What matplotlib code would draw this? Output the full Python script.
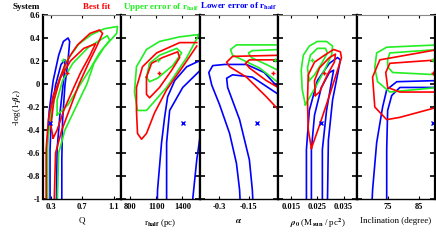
import matplotlib
matplotlib.use('Agg')
import matplotlib.pyplot as plt

plt.rcParams['font.family'] = ['Liberation Serif', 'DejaVu Serif']
plt.rcParams['font.weight'] = 'bold'
plt.rcParams['mathtext.fontset'] = 'stix'
plt.rcParams['axes.unicode_minus'] = False

RED = '#ff0000'
GREEN = '#22ee22'
BLUE = '#0000ff'

y_ticks = [-1, -0.8, -0.6, -0.4, -0.2, 0, 0.2, 0.4, 0.6]
y_tick_labels = ['-1', '-0.8', '-0.6', '-0.4', '-0.2', '0', '0.2', '0.4', '0.6']

# --- Q panel
q_ticks = [0.3, 0.7, 1.1]
q_tick_labels = ['0.3', '0.7', '1.1']
q_red_outer = [(0.24, -1.1), (0.24, -0.57), (0.27, -0.30), (0.33, -0.10), (0.39, 0.0),
               (0.47, 0.15), (0.55, 0.25), (0.64, 0.34), (0.80, 0.44), (0.92, 0.47),
               (0.96, 0.44), (0.88, 0.32), (0.78, 0.18), (0.66, 0.0), (0.55, -0.20),
               (0.44, -0.40), (0.36, -0.60), (0.34, -1.1)]
q_red_inner = [(0.33, -0.47), (0.30, -0.36), (0.34, -0.14), (0.42, 0.05), (0.55, 0.20),
               (0.72, 0.31), (0.87, 0.35), (0.80, 0.25), (0.68, 0.10), (0.58, -0.05),
               (0.47, -0.22), (0.38, -0.40), (0.33, -0.47)]
q_green_outer = [(0.26, -1.1), (0.26, -0.49), (0.31, -0.23), (0.40, 0.03), (0.52, 0.22),
                 (0.66, 0.35), (0.82, 0.43), (0.98, 0.48), (1.15, 0.50), (1.14, 0.44),
                 (0.98, 0.32), (0.85, 0.18), (0.76, 0.0), (0.62, -0.20), (0.48, -0.40),
                 (0.40, -0.60), (0.38, -1.1)]
q_green_inner = [(0.38, -0.27), (0.38, -0.14), (0.45, 0.03), (0.58, 0.18), (0.78, 0.32),
                 (1.02, 0.42), (1.05, 0.38), (0.92, 0.27), (0.80, 0.13), (0.66, -0.02),
                 (0.52, -0.18), (0.38, -0.27)]
q_blue_outer = [(0.25, -1.1), (0.25, -0.57), (0.28, -0.23), (0.33, 0.03), (0.40, 0.25),
                (0.46, 0.37), (0.52, 0.40), (0.54, 0.37), (0.52, 0.21), (0.48, -0.01),
                (0.45, -0.31), (0.44, -0.66), (0.44, -1.1)]
q_blue_inner = [(0.29, -1.1), (0.29, -0.57), (0.31, -0.23), (0.36, -0.01), (0.43, 0.17),
                (0.48, 0.21), (0.47, 0.08), (0.42, -0.23), (0.38, -0.57), (0.37, -1.1)]
q_points = [(0.50, 0.10), (0.45, 0.21), (0.29, -0.34)]

# --- r_half panel
r_ticks = [800, 1100, 1400]
r_tick_labels = ['800', '1100', '1400']
r_red_outer = [(1565, 0.36), (1369, 0.36), (1104, 0.27), (942, 0.15), (873, -0.03),
               (873, -0.23), (885, -0.43), (931, -0.48), (988, -0.43), (1081, -0.25),
               (1219, -0.05), (1404, 0.15), (1565, 0.33)]
r_red_inner = [(988, 0.06), (1046, 0.18), (1173, 0.23), (1346, 0.28), (1369, 0.23),
               (1277, 0.12), (1138, -0.03), (1023, -0.12), (988, -0.09), (988, 0.06)]
r_green_outer = [(1589, 0.43), (1369, 0.41), (1138, 0.37), (988, 0.30), (873, 0.15),
                 (850, -0.07), (885, -0.23), (988, -0.23), (1219, -0.03), (1450, 0.23),
                 (1577, 0.41), (1589, 0.43)]
r_green_inner = [(988, 0.06), (1023, 0.18), (1138, 0.25), (1335, 0.31), (1392, 0.27),
                 (1288, 0.16), (1115, 0.05), (1023, 0.02), (988, 0.06)]
r_blue_a = [(1620, 0.21), (1450, 0.15), (1312, 0.03), (1231, -0.11), (1196, -0.29),
            (1161, -0.51), (1115, -0.92), (1110, -1.1)]
r_blue_b = [(1620, 0.13), (1404, -0.03), (1254, -0.23), (1219, -0.51), (1219, -1.1)]
r_blue_c = [(1610, -0.42), (1565, -0.66), (1519, -1.0), (1515, -1.1)]
r_points = [(1127, 0.10), (1115, 0.21), (1404, -0.34)]

# --- alpha panel
a_ticks = [-0.3, -0.15]
a_tick_labels = ['-0.3', '-0.15']
a_red_outer = [(0.01, 0.25), (-0.233, 0.24), (-0.263, 0.19), (-0.248, 0.15), (-0.162, 0.06),
               (-0.061, -0.11), (0.01, -0.24)]
a_red_inner = [(0.01, 0.21), (-0.147, 0.21), (-0.167, 0.18), (-0.147, 0.14), (-0.061, 0.03),
               (0.01, -0.04)]
a_green_outer = [(0.01, 0.34), (-0.213, 0.34), (-0.243, 0.30), (-0.233, 0.25), (-0.182, 0.21),
                 (-0.096, 0.14), (0.01, 0.0)]
a_green_inner = [(0.01, 0.30), (-0.132, 0.29), (-0.152, 0.27), (-0.137, 0.23), (-0.061, 0.17),
                 (0.01, 0.11)]
a_blue_outer = [(0.01, -0.05), (-0.071, 0.10), (-0.162, 0.17), (-0.273, 0.17), (-0.334, 0.16),
                (-0.354, 0.10), (-0.339, -0.01), (-0.299, -0.18), (-0.248, -0.43),
                (-0.213, -0.69), (-0.197, -0.92), (-0.192, -1.1)]
a_blue_inner = [(0.01, -0.10), (-0.132, 0.06), (-0.233, 0.08), (-0.263, 0.05), (-0.258, -0.03),
                (-0.197, -0.31), (-0.147, -0.66), (-0.132, -0.92), (-0.127, -1.1)]
a_points = [(-0.025, 0.10), (-0.015, 0.21), (-0.106, -0.34)]

# --- rho_0 panel
p_ticks = [0.015, 0.025, 0.035]
p_tick_labels = ['0.015', '0.025', '0.035']
p_red_outer = [(0.0227, -0.56), (0.0215, -0.40), (0.0212, -0.14), (0.0215, 0.08),
               (0.0239, 0.19), (0.0277, 0.25), (0.0312, 0.30), (0.0338, 0.28),
               (0.0342, 0.23), (0.0327, 0.12), (0.0296, -0.10), (0.0258, -0.36),
               (0.0227, -0.56)]
p_red_inner = [(0.0242, -0.10), (0.0239, 0.03), (0.0258, 0.14), (0.0296, 0.23),
               (0.0319, 0.26), (0.0315, 0.19), (0.0288, 0.08), (0.0258, -0.07),
               (0.0242, -0.10)]
p_green_outer = [(0.0204, -0.18), (0.0192, -0.05), (0.0188, 0.12), (0.0196, 0.25),
                 (0.0219, 0.33), (0.0250, 0.37), (0.0285, 0.37), (0.0308, 0.33),
                 (0.0304, 0.25), (0.0277, 0.12), (0.0242, -0.03), (0.0204, -0.18)]
p_green_inner = [(0.0219, 0.03), (0.0212, 0.14), (0.0223, 0.25), (0.0250, 0.31),
                 (0.0281, 0.31), (0.0288, 0.27), (0.0269, 0.19), (0.0239, 0.08),
                 (0.0219, 0.03)]
p_blue_outer = [(0.0208, -1.1), (0.0208, -0.57), (0.0219, -0.23), (0.0250, 0.03),
                (0.0296, 0.18), (0.0327, 0.23), (0.0338, 0.21), (0.0327, 0.08),
                (0.0308, -0.14), (0.0292, -0.49), (0.0288, -1.1)]
p_blue_inner = [(0.0227, -1.1), (0.0227, -0.57), (0.0239, -0.27), (0.0265, -0.03),
                (0.0296, 0.10), (0.0312, 0.12), (0.0304, 0.02), (0.0285, -0.23),
                (0.0269, -0.57), (0.0269, -1.1)]
p_points = [(0.0277, 0.10), (0.0231, 0.21), (0.0265, -0.34)]

# --- inclination panel
i_ticks = [75, 85]
i_tick_labels = ['75', '85']
i_red_outer = [(91, 0.30), (72.4, 0.21), (70.1, 0.06), (70.8, -0.20), (74.6, -0.31),
               (78.8, -0.29), (91, -0.20)]
i_red_inner = [(91, 0.21), (75.6, 0.18), (74.3, 0.10), (74.9, -0.03), (78.8, -0.07),
               (91, -0.07)]
i_green_outer = [(91, 0.34), (74.6, 0.32), (71.4, 0.27), (70.8, 0.14), (71.7, 0.02),
                 (75.6, -0.07), (91, -0.03)]
i_green_inner = [(91, 0.30), (75.6, 0.27), (74.9, 0.21), (74.9, 0.15), (76.5, 0.10),
                 (91, 0.08)]
i_blue_outer = [(91, 0.03), (77.8, 0.02), (74.6, -0.05), (73.3, -0.20), (71.4, -0.51),
                (70.1, -0.92), (69.8, -1.1)]
i_blue_inner = [(91, -0.03), (78.8, -0.03), (76.2, -0.10), (74.9, -0.23), (74.6, -0.57),
                (74.6, -1.1)]
i_points = [(89.4, 0.10), (89.4, 0.21), (89.4, -0.34)]

panels = [
    dict(xlim=(0.2, 1.2), ticks=q_ticks, labels=q_tick_labels, xlabel='Q',
         red=[q_red_outer, q_red_inner], green=[q_green_outer, q_green_inner],
         blue=[q_blue_outer, q_blue_inner], points=q_points),
    dict(xlim=(700, 1600), ticks=r_ticks, labels=r_tick_labels,
         xlabel=r'r$_{\rm half}$ (pc)',
         red=[r_red_outer, r_red_inner], green=[r_green_outer, r_green_inner],
         blue=[r_blue_a, r_blue_b, r_blue_c], points=r_points),
    dict(xlim=(-0.4, 0.0), ticks=a_ticks, labels=a_tick_labels, xlabel=r'$\alpha$',
         red=[a_red_outer, a_red_inner], green=[a_green_outer, a_green_inner],
         blue=[a_blue_outer, a_blue_inner], points=a_points),
    dict(xlim=(0.01, 0.04), ticks=p_ticks, labels=p_tick_labels,
         xlabel=r'$\rho_0$ (M$_{\rm sun}$ / pc$^2$)',
         red=[p_red_outer, p_red_inner], green=[p_green_outer, p_green_inner],
         blue=[p_blue_outer, p_blue_inner], points=p_points),
    dict(xlim=(65, 90), ticks=i_ticks, labels=i_tick_labels,
         xlabel='Inclination (degree)',
         red=[i_red_outer, i_red_inner], green=[i_green_outer, i_green_inner],
         blue=[i_blue_outer, i_blue_inner], points=i_points),
]

fig = plt.figure(figsize=(4.36, 2.42), dpi=100)
left, bottom, height = 43 / 436, 43 / 242, 184 / 242
width = (392 / 436) / 5

for n, p in enumerate(panels):
    ax = fig.add_axes([left + n * width, bottom, width, height])
    for curves, color in ((p['blue'], BLUE), (p['green'], GREEN), (p['red'], RED)):
        for c in curves:
            xs, ys = zip(*c)
            ax.plot(xs, ys, color=color, lw=1.2, solid_joinstyle='round')
    (bx, by), (ux, uy), (lx, ly) = p['points']
    ax.plot(bx, by, '+', color=RED, ms=3, mew=1)
    ax.plot(ux, uy, '+', color=GREEN, ms=3, mew=1)
    ax.plot(lx, ly, 'x', color=BLUE, ms=2.5, mew=1)

    ax.set_xlim(*p['xlim'])
    ax.set_ylim(-1, 0.6)
    ax.set_xticks(p['ticks'])
    ax.set_xticklabels(p['labels'], fontsize=6)
    ax.set_yticks(y_ticks)
    if n == 0:
        ax.set_yticklabels(y_tick_labels, fontsize=6)
        ax.set_ylabel(r'-log(1-$\beta_c$)', fontsize=6.5, labelpad=3)
    else:
        ax.set_yticklabels([])
    ax.set_xlabel(p['xlabel'], fontsize=6.5, labelpad=4)
    ax.tick_params(axis='y', direction='in', left=True, right=True, length=3.5, width=1.2, pad=2)
    ax.tick_params(axis='x', direction='in', top=True, bottom=True, length=2.5, width=0.8, pad=3)
    ax.spines['top'].set_color('#888888')
    ax.spines['top'].set_linewidth(0.8)
    ax.spines['bottom'].set_linewidth(1.0)
    ax.spines['left'].set_linewidth(1.6)
    ax.spines['right'].set_linewidth(1.6)

fig.text(13 / 436, 0.972, 'System', fontsize=6.5, color='black', va='center')
fig.text(83 / 436, 0.972, 'Best fit', fontsize=6.5, color=RED, va='center')
fig.text(123 / 436, 0.972, r'Upper error of r$_{\rm half}$', fontsize=6.5, color=GREEN,
         va='center')
fig.text(200 / 436, 0.972, r'Lower error of r$_{\rm half}$', fontsize=6.5, color=BLUE,
         va='center')

fig.savefig('out.png', dpi=100)
